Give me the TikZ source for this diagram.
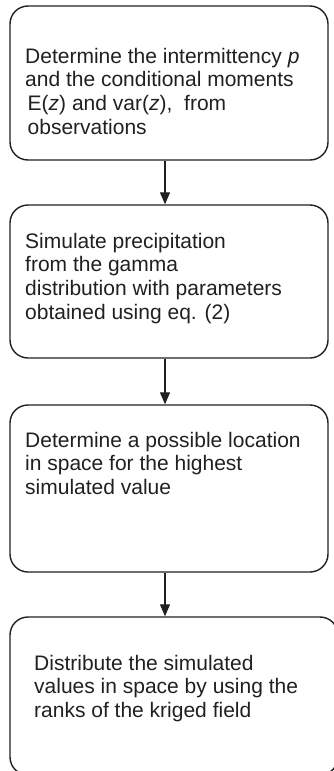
\documentclass[tikz,border=0pt]{standalone}
\usepackage{fontspec}
\setmainfont{Liberation Sans}
\usetikzlibrary{arrows.meta}
\definecolor{ink}{HTML}{231F20}
\begin{document}
\begin{tikzpicture}[x=1pt,y=-1pt,
  stepbox/.style={draw=ink, line width=1.4pt, rounded corners=18pt, inner sep=0pt},
  txt/.style={anchor=north west, align=left, inner sep=0pt, text=ink,
              font=\fontsize{21}{23.8}\selectfont},
  flow/.style={draw=ink, line width=1.2pt, -{Triangle[length=12pt,width=10pt]}}]
  \useasboundingbox (0,0) rectangle (334,771);

  % process boxes
  \node[stepbox, minimum width=318pt, minimum height=154pt] (b1) at (169,83) {};
  \node[stepbox, minimum width=318pt, minimum height=153pt] (b2) at (169,281.5) {};
  \node[stepbox, minimum width=318pt, minimum height=167pt] (b3) at (169,488.5) {};
  \node[stepbox, minimum width=328pt, minimum height=158pt] (b4) at (174,696) {};

  % box texts
  \node[txt] (t1) at (25,47.7) {Determine the intermittency \textit{p}\\
    and the conditional moments\\
    \hspace{2.5pt}E(\textit{z}) and var(\textit{z}),\hspace{6pt} from\\
    \hspace{2.5pt}observations};
  \node[txt] (t2) at (25,232.7) {Simulate precipitation\\
    from the gamma\\
    distribution with parameters\\
    obtained using eq. (2)};
  \node[txt] (t3) at (25,431.7) {Determine a possible location\\
    in space for the highest\\
    simulated value};
  \node[txt] (t4) at (34,654.7) {Distribute the simulated\\
    values in space by using the\\
    ranks of the kriged field};

  % connectors
  \coordinate (ax) at (165,0);
  \draw[flow] (b1.south -| ax) -- (b2.north -| ax);
  \draw[flow] (b2.south -| ax) -- (b3.north -| ax);
  \draw[flow] (b3.south -| ax) -- (b4.north -| ax);
\end{tikzpicture}
\end{document}
